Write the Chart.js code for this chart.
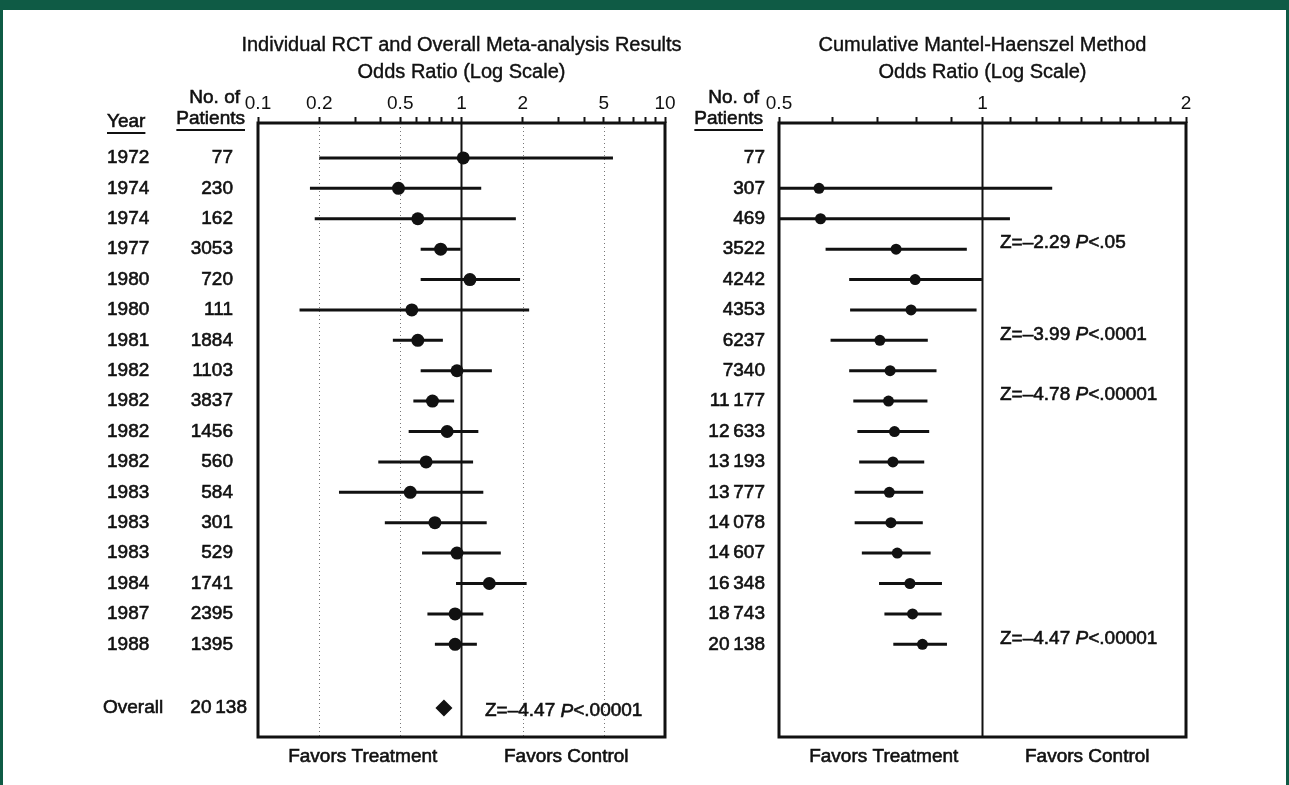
<!DOCTYPE html>
<html>
<head>
<meta charset="utf-8">
<script src="https://cdn.jsdelivr.net/npm/chart.js@4.4.0/dist/chart.umd.min.js"></script>
<style>
html, body { margin: 0; padding: 0; background: #fff; }
#frame { position: absolute; left: 0; top: 0; width: 1289px; height: 785px; box-sizing: border-box;
         border-top: 10px solid #0f5b45; border-left: 3px solid #0f5b45; border-right: 3px solid #0f5b45; }
#left { position: absolute; left: 100px; top: 0; }
#right { position: absolute; left: 690px; top: 0; }
</style>
</head>
<body>
<div id="frame"></div>
<canvas id="left" width="590" height="785"></canvas>
<canvas id="right" width="599" height="785"></canvas>
<script>
// individual trials
const years = ['1972', '1974', '1974', '1977', '1980', '1980', '1981', '1982', '1982', '1982', '1982', '1983', '1983', '1983', '1984', '1987', '1988'];
const patients = ['77', '230', '162', '3053', '720', '111', '1884', '1103', '3837', '1456', '560', '584', '301', '529', '1741', '2395', '1395'];
const trialOR = [1.02, 0.49, 0.61, 0.79, 1.10, 0.57, 0.61, 0.95, 0.72, 0.85, 0.67, 0.56, 0.74, 0.95, 1.37, 0.93, 0.93];
const trialLo = [0.20, 0.18, 0.19, 0.63, 0.63, 0.16, 0.46, 0.63, 0.58, 0.55, 0.39, 0.25, 0.42, 0.64, 0.94, 0.68, 0.74];
const trialHi = [5.55, 1.25, 1.85, 0.99, 1.94, 2.15, 0.81, 1.41, 0.92, 1.21, 1.14, 1.28, 1.33, 1.56, 2.09, 1.28, 1.19];
const overallOR = 0.82;
const overallN = '20\u2009138';
const overallZ = ['Z=\u20134.47 ', 'P', '<.00001'];

// cumulative Mantel-Haenszel
const cumPatients = ['77', '307', '469', '3522', '4242', '4353', '6237', '7340', '11\u2009177', '12\u2009633', '13\u2009193', '13\u2009777', '14\u2009078', '14\u2009607', '16\u2009348', '18\u2009743', '20\u2009138'];
const cumOR = [null, 0.573, 0.576, 0.745, 0.795, 0.784, 0.705, 0.730, 0.726, 0.741, 0.737, 0.728, 0.732, 0.748, 0.781, 0.788, 0.815];
const cumLo = [null, 0.49, 0.49, 0.586, 0.635, 0.637, 0.596, 0.635, 0.644, 0.653, 0.657, 0.647, 0.647, 0.663, 0.703, 0.716, 0.738];
const cumHi = [null, 1.268, 1.098, 0.948, 0.998, 0.980, 0.830, 0.855, 0.829, 0.834, 0.820, 0.817, 0.816, 0.838, 0.871, 0.870, 0.886];
const cumZRows = [3, 6, 8, 16];
const cumZ = [['Z=\u20132.29 ', 'P', '<.05'], ['Z=\u20133.99 ', 'P', '<.0001'], ['Z=\u20134.78 ', 'P', '<.00001'], ['Z=\u20134.47 ', 'P', '<.00001']];

// axis ticks
const leftTicks = [0.1, 0.2, 0.3, 0.4, 0.5, 0.6, 0.7, 0.8, 0.9, 1, 2, 3, 4, 5, 6, 7, 8, 9, 10];
const leftLabels = [0.1, 0.2, 0.5, 1, 2, 5, 10];
const leftDotted = [0.2, 0.5, 2, 5];
const rightTicks = [0.5, 0.6, 0.7, 0.8, 0.9, 1, 1.1, 1.2, 1.3, 1.4, 1.5, 1.6, 1.7, 1.8, 1.9, 2];
const rightLabels = [0.5, 1, 2];

const INK = '#111';
const FAMILY = "'Liberation Sans', Arial, sans-serif";
const FONT = '19px ' + FAMILY;
const FONT_I = 'italic 19px ' + FAMILY;
const FONT_T = '20px ' + FAMILY;

function rows(vals) {
    return vals.map((v, i) => v == null ? null : { x: v, y: i }).filter(p => p);
}

// slightly heavy text, like the scanned original
function text(ctx, s, x, y, align) {
    ctx.textAlign = align || 'left';
    ctx.fillText(s, x, y);
    ctx.strokeText(s, x, y);
    return ctx.measureText(s).width;
}

function underlined(ctx, s, x, y, align) {
    const w = text(ctx, s, x, y, align);
    const x0 = align === 'right' ? x - w : x;
    ctx.fillRect(x0, y + 10, w, 2);
}

function zText(ctx, parts, x, y) {
    ctx.font = FONT;
    x += text(ctx, parts[0], x, y);
    ctx.font = FONT_I;
    x += text(ctx, parts[1], x, y);
    ctx.font = FONT;
    text(ctx, parts[2], x, y);
}

const forestPlugin = {
    id: 'forest',
    beforeDatasetsDraw(chart, args, opts) {
        const { ctx, chartArea: a, scales: { x, y } } = chart;
        ctx.save();
        ctx.beginPath();
        ctx.rect(a.left, a.top, a.right - a.left, a.bottom - a.top);
        ctx.clip();
        ctx.strokeStyle = '#777';
        ctx.lineWidth = 1;
        ctx.setLineDash([1, 3]);
        (opts.dotted || []).forEach(v => {
            const px = Math.round(x.getPixelForValue(v)) + 0.5;
            ctx.beginPath(); ctx.moveTo(px, a.top); ctx.lineTo(px, a.bottom); ctx.stroke();
        });
        ctx.setLineDash([]);
        ctx.strokeStyle = INK;
        ctx.lineWidth = 2;
        const p1 = x.getPixelForValue(1);
        ctx.beginPath(); ctx.moveTo(p1, a.top); ctx.lineTo(p1, a.bottom); ctx.stroke();
        ctx.lineWidth = 3;
        opts.lo.forEach((lo, i) => {
            if (lo == null) return;
            const py = y.getPixelForValue(i);
            ctx.beginPath();
            ctx.moveTo(x.getPixelForValue(lo), py);
            ctx.lineTo(x.getPixelForValue(opts.hi[i]), py);
            ctx.stroke();
        });
        ctx.restore();
    },
    afterDatasetsDraw(chart) {
        const { ctx, chartArea: a } = chart;
        ctx.save();
        ctx.strokeStyle = INK;
        ctx.lineWidth = 3;
        ctx.strokeRect(a.left, a.top, a.right - a.left, a.bottom - a.top);
        ctx.restore();
    },
    afterDraw(chart, args, opts) {
        const { ctx, chartArea: a, scales: { x, y } } = chart;
        const cx = (a.left + a.right) / 2;
        const p1 = x.getPixelForValue(1);
        ctx.save();
        ctx.fillStyle = INK;
        ctx.strokeStyle = INK;
        ctx.lineWidth = 0.4;
        ctx.font = FONT_T;
        ctx.textBaseline = 'middle';
        text(ctx, opts.title, cx, 45, 'center');
        text(ctx, 'Odds Ratio (Log Scale)', cx, 72, 'center');
        ctx.lineWidth = 0.6;
        ctx.font = FONT;
        opts.drawLabels(ctx, a, y);
        text(ctx, 'Favors Treatment', (a.left + p1) / 2 + 3, 757, 'center');
        text(ctx, 'Favors Control', (p1 + a.right) / 2 + 3, 757, 'center');
        opts.notes.forEach(n => zText(ctx, n.parts, n.x, y.getPixelForValue(n.row) - 6));
        ctx.restore();
    }
};

function axisX(min, max, ticks, labels) {
    return {
        type: 'logarithmic', position: 'top', min: min, max: max,
        afterBuildTicks: s => { s.ticks = ticks.map(v => ({ value: v })); },
        afterFit: s => { s.height = 30; },
        ticks: {
            autoSkip: false, maxRotation: 0, padding: 2, color: INK,
            font: { family: FAMILY, size: 19 },
            callback: v => labels.indexOf(v) >= 0 ? String(v) : ''
        },
        grid: { drawOnChartArea: false, drawTicks: true, tickLength: 6, tickWidth: 2, color: INK },
        border: { display: false }
    };
}

const axisY = { type: 'linear', min: -1.15, max: 19.05, reverse: true, display: false };

function forestChart(id, cfg) {
    return new Chart(document.getElementById(id), {
        type: 'scatter',
        data: { datasets: cfg.datasets },
        options: {
            responsive: false, animation: false, devicePixelRatio: 1,
            layout: { padding: cfg.padding },
            scales: { x: cfg.x, y: axisY },
            plugins: { legend: { display: false }, tooltip: { enabled: false }, forest: cfg.forest }
        },
        plugins: [forestPlugin]
    });
}

forestChart('left', {
    padding: { left: 158, right: 25, top: 93, bottom: 48 },
    x: axisX(0.1, 10, leftTicks, leftLabels),
    datasets: [
        { data: rows(trialOR), pointRadius: 6.5, pointBackgroundColor: INK, pointBorderWidth: 0 },
        { data: [{ x: overallOR, y: 18.1 }], pointStyle: 'rectRot', pointRadius: 8.5, pointBackgroundColor: INK, pointBorderWidth: 0 }
    ],
    forest: {
        title: 'Individual RCT and Overall Meta-analysis Results',
        dotted: leftDotted, lo: trialLo, hi: trialHi,
        notes: [{ parts: overallZ, x: 385, row: 18.4 }],
        drawLabels(ctx, a, y) {
            const xYear = 7, xN = 133;
            text(ctx, 'No. of', xN + 7, 98, 'right');
            underlined(ctx, 'Patients', xN + 12, 119, 'right');
            underlined(ctx, 'Year', xYear, 122, 'left');
            years.forEach((yr, i) => {
                const py = y.getPixelForValue(i);
                text(ctx, yr, xYear, py, 'left');
                text(ctx, patients[i], xN, py, 'right');
            });
            const po = y.getPixelForValue(18.1);
            text(ctx, 'Overall', 3, po, 'left');
            text(ctx, overallN, 147, po, 'right');
        }
    }
});

forestChart('right', {
    padding: { left: 89, right: 103, top: 93, bottom: 48 },
    x: axisX(0.5, 2, rightTicks, rightLabels),
    datasets: [
        { data: rows(cumOR), pointRadius: 5.5, pointBackgroundColor: INK, pointBorderWidth: 0, clip: 0 }
    ],
    forest: {
        title: 'Cumulative Mantel-Haenszel Method',
        dotted: [], lo: cumLo, hi: cumHi,
        notes: cumZRows.map((r, k) => ({ parts: cumZ[k], x: 310, row: r })),
        drawLabels(ctx, a, y) {
            const xN = 75;
            text(ctx, 'No. of', xN - 6, 98, 'right');
            underlined(ctx, 'Patients', xN - 2, 119, 'right');
            cumPatients.forEach((n, i) => text(ctx, n, xN, y.getPixelForValue(i), 'right'));
        }
    }
});
</script>
</body>
</html>
